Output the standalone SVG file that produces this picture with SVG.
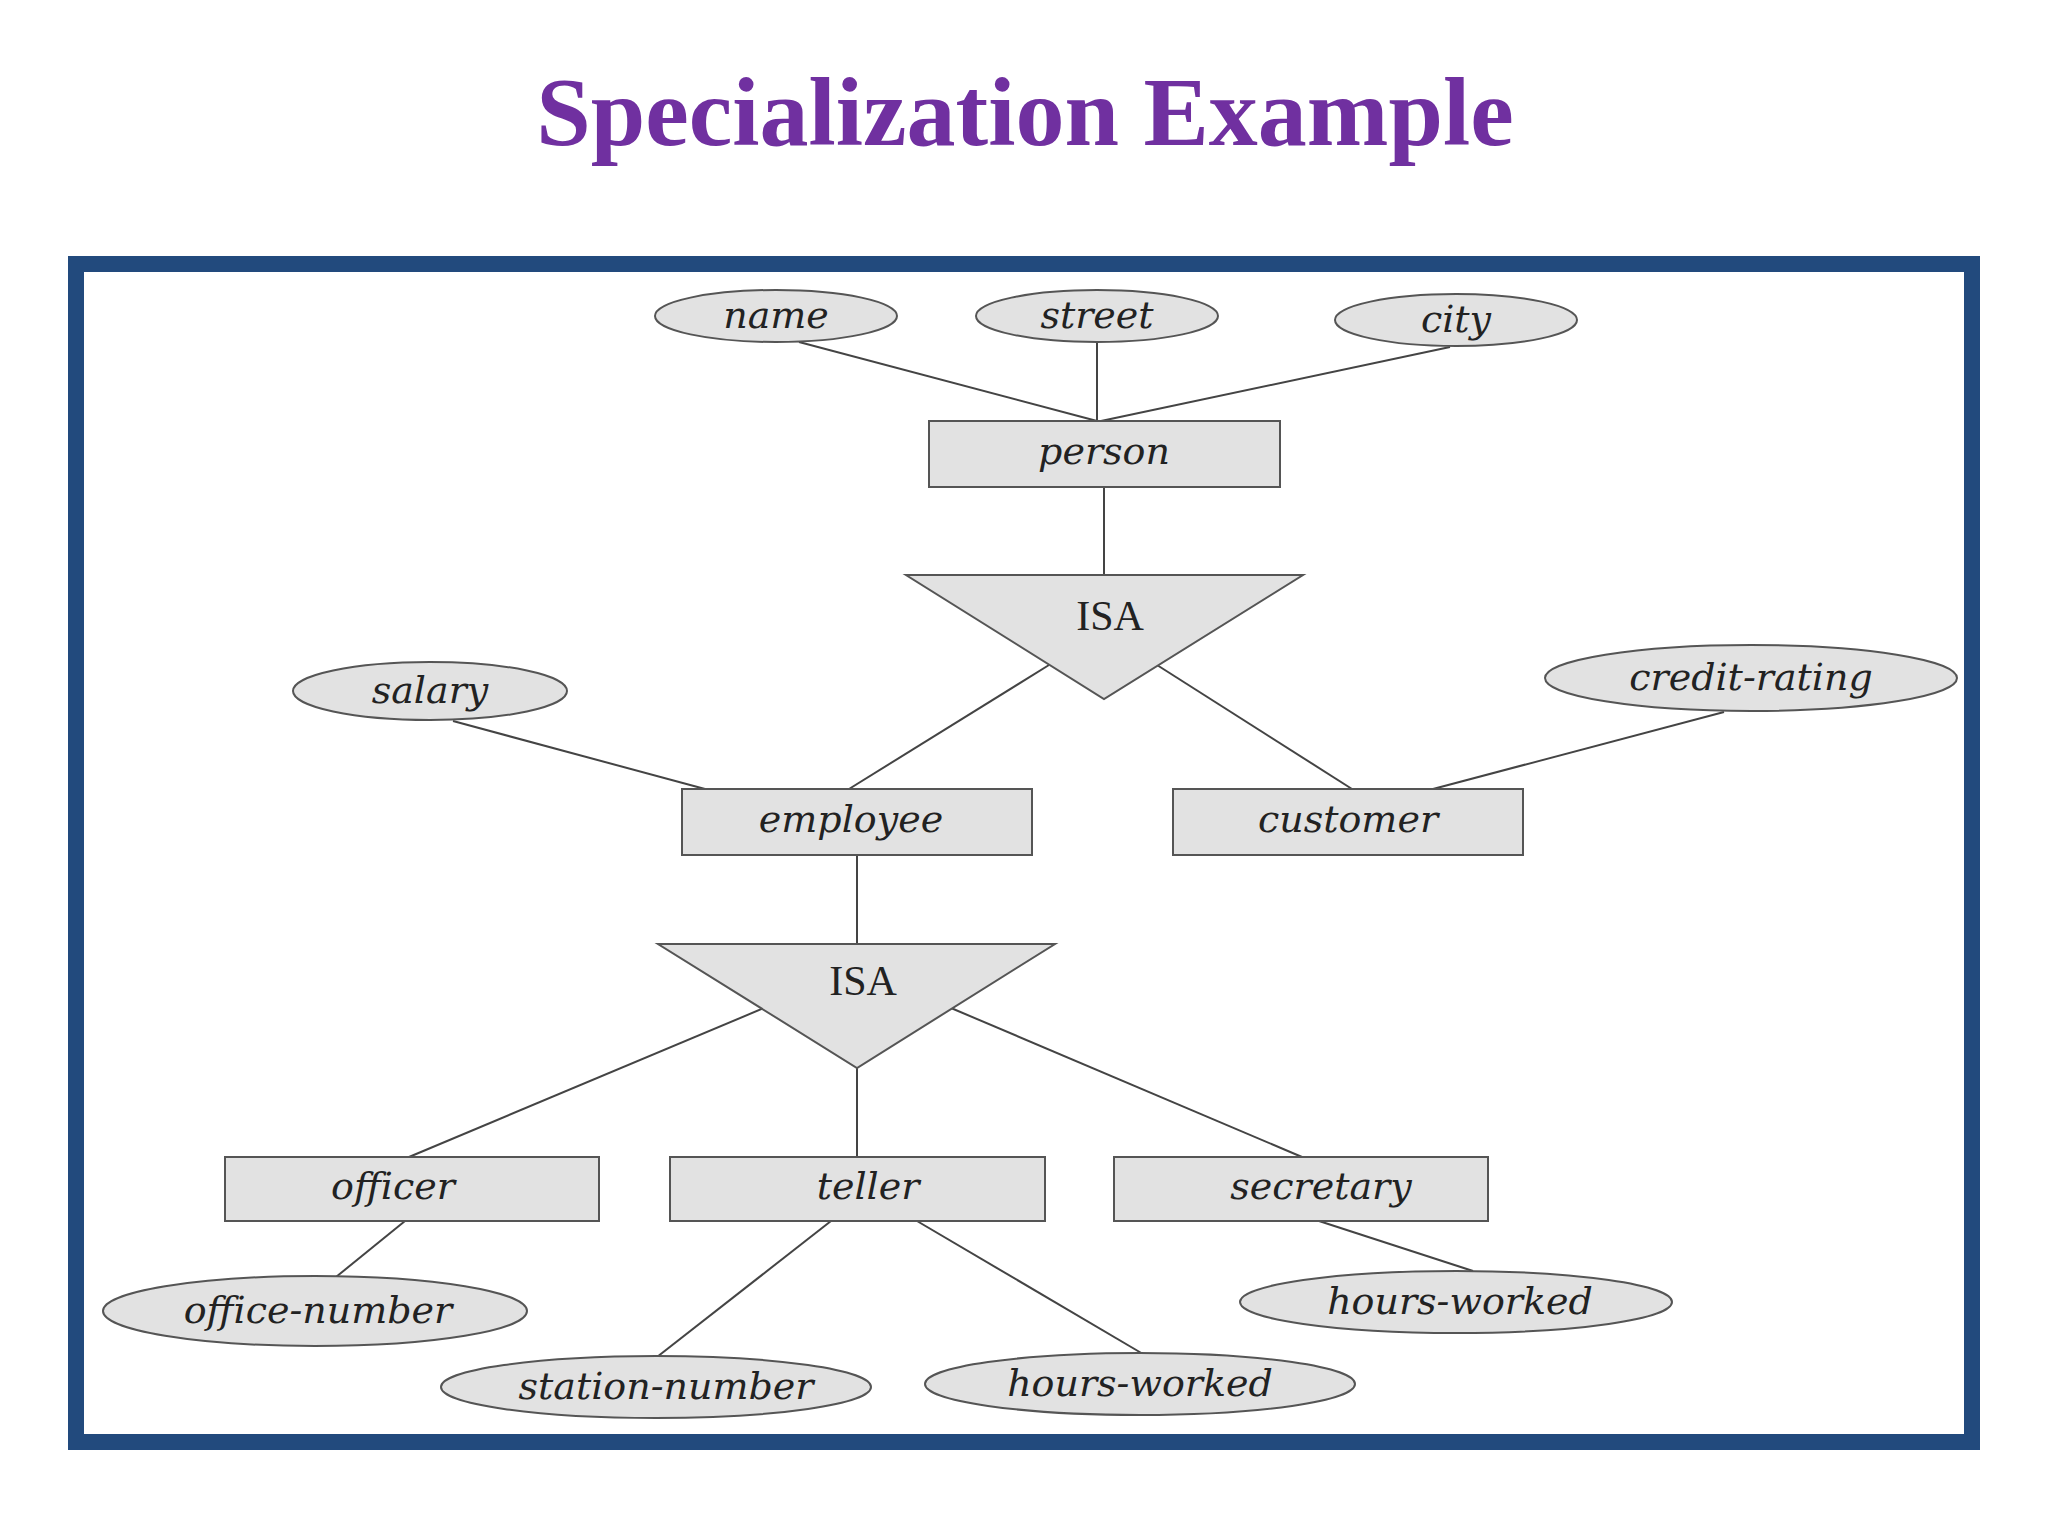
<svg xmlns="http://www.w3.org/2000/svg" width="2048" height="1536" viewBox="0 0 2048 1536">
<style>
.n{fill:#e2e2e2;stroke:#555;stroke-width:2}
.t{font-family:"DejaVu Serif","Liberation Serif",serif;font-style:italic;font-size:38px;fill:#222;text-anchor:middle}
.i{font-family:"Liberation Serif",serif;font-size:42px;fill:#222;text-anchor:middle}
#c line{stroke:#444;stroke-width:2}
</style>
<rect width="2048" height="1536" fill="#fff"/>
<text x="1025" y="145" font-family="Liberation Serif,serif" font-weight="bold" font-size="98" fill="#7030a0" text-anchor="middle">Specialization Example</text>
<rect x="76" y="264" width="1896" height="1178" fill="#fff" stroke="#224a7d" stroke-width="16"/>
<g id="c">
<line x1="799" y1="342" x2="1097" y2="421"/>
<line x1="1097" y1="342" x2="1097" y2="421"/>
<line x1="1450" y1="347" x2="1101" y2="421"/>
<line x1="1104" y1="487" x2="1104" y2="575"/>
<line x1="1049" y1="665" x2="849" y2="789"/>
<line x1="1157" y1="665" x2="1352" y2="789"/>
<line x1="453" y1="721" x2="705" y2="789"/>
<line x1="1724" y1="712" x2="1433" y2="789"/>
<line x1="857" y1="855" x2="857" y2="944"/>
<line x1="764" y1="1008" x2="409" y2="1157"/>
<line x1="857" y1="1068" x2="857" y2="1157"/>
<line x1="951" y1="1008" x2="1302" y2="1157"/>
<line x1="405" y1="1221" x2="336" y2="1277"/>
<line x1="831" y1="1221" x2="657" y2="1357"/>
<line x1="917" y1="1221" x2="1143" y2="1354"/>
<line x1="1319" y1="1221" x2="1473" y2="1271"/>
</g>
<g id="name"><ellipse class="n" cx="776" cy="316" rx="121" ry="26"/><text class="t" x="776" y="328">name</text></g>
<g id="street"><ellipse class="n" cx="1097" cy="316" rx="121" ry="26"/><text class="t" x="1097" y="328">street</text></g>
<g id="city"><ellipse class="n" cx="1456" cy="320" rx="121" ry="26"/><text class="t" x="1456" y="332">city</text></g>
<g id="person"><rect class="n" x="929" y="421" width="351" height="66"/><text class="t" x="1104" y="464">person</text></g>
<g id="isa1"><polygon class="n" points="906,575 1303,575 1104,699"/><text class="i" x="1110" y="630">ISA</text></g>
<g id="salary"><ellipse class="n" cx="430" cy="691" rx="137" ry="29"/><text class="t" x="430" y="703">salary</text></g>
<g id="credit-rating"><ellipse class="n" cx="1751" cy="678" rx="206" ry="33"/><text class="t" x="1751" y="690">credit-rating</text></g>
<g id="employee"><rect class="n" x="682" y="789" width="350" height="66"/><text class="t" x="851" y="832">employee</text></g>
<g id="customer"><rect class="n" x="1173" y="789" width="350" height="66"/><text class="t" x="1348" y="832">customer</text></g>
<g id="isa2"><polygon class="n" points="658,944 1055,944 857,1068"/><text class="i" x="863" y="995">ISA</text></g>
<g id="officer"><rect class="n" x="225" y="1157" width="374" height="64"/><text class="t" x="393" y="1199">officer</text></g>
<g id="teller"><rect class="n" x="670" y="1157" width="375" height="64"/><text class="t" x="868" y="1199">teller</text></g>
<g id="secretary"><rect class="n" x="1114" y="1157" width="374" height="64"/><text class="t" x="1321" y="1199">secretary</text></g>
<g id="office-number"><ellipse class="n" cx="315" cy="1311" rx="212" ry="35"/><text class="t" x="318" y="1323">office-number</text></g>
<g id="station-number"><ellipse class="n" cx="656" cy="1387" rx="215" ry="31"/><text class="t" x="666" y="1399">station-number</text></g>
<g id="hours-worked-teller"><ellipse class="n" cx="1140" cy="1384" rx="215" ry="31"/><text class="t" x="1140" y="1396">hours-worked</text></g>
<g id="hours-worked-secretary"><ellipse class="n" cx="1456" cy="1302" rx="216" ry="31"/><text class="t" x="1460" y="1314">hours-worked</text></g>
</svg>
